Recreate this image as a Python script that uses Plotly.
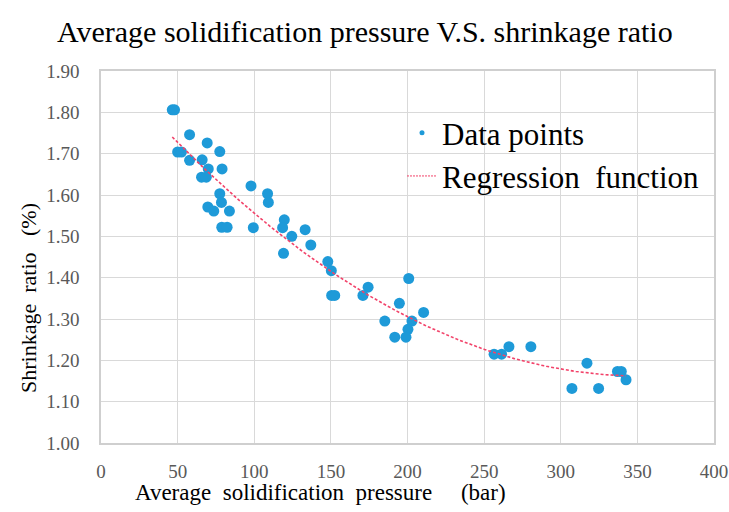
import numpy as np
import plotly.graph_objects as go

# Average solidification pressure (bar) and measured shrinkage ratio (%)
pressure = [46.5, 48.0, 57.8, 50.0, 52.5, 57.8, 69.3, 77.5, 66.0, 70.0,
            65.6, 68.7, 79.0, 77.5, 78.6, 69.7, 73.6, 83.8, 78.8, 82.3,
            97.9, 108.7, 109.2, 99.4, 119.6, 118.5, 119.1, 124.5, 133.2, 136.9,
            148.0, 150.3, 150.5, 152.5, 174.3, 170.9, 194.7, 200.8, 210.5, 185.2,
            202.9, 200.3, 191.7, 199.0, 256.5, 261.4, 266.2, 280.5, 317.1, 337.0,
            339.5, 342.6, 307.3, 324.7]
shrinkage = [1.806, 1.806, 1.746, 1.704, 1.704, 1.684, 1.726, 1.705, 1.685, 1.663,
             1.643, 1.643, 1.663, 1.603, 1.582, 1.571, 1.561, 1.561, 1.522, 1.522,
             1.622, 1.603, 1.582, 1.521, 1.540, 1.521, 1.459, 1.500, 1.516, 1.479,
             1.439, 1.417, 1.357, 1.357, 1.377, 1.357, 1.338, 1.398, 1.316, 1.295,
             1.295, 1.275, 1.256, 1.256, 1.215, 1.215, 1.233, 1.233, 1.193, 1.173,
             1.173, 1.153, 1.132, 1.132]

x_ticks = [0, 50, 100, 150, 200, 250, 300, 350, 400]
y_ticks = [1.00, 1.10, 1.20, 1.30, 1.40, 1.50, 1.60, 1.70, 1.80, 1.90]

POINT_COLOR = "#1E9AD8"
FIT_COLOR = "#F2436A"
SERIF = "Times New Roman"

# Second-order polynomial regression of shrinkage on pressure
coef = np.polyfit(pressure, shrinkage, 2)
fit_x = np.linspace(min(pressure), max(pressure), 200)
fit_y = np.polyval(coef, fit_x)

fig = go.Figure()
fig.add_trace(go.Scatter(
    x=pressure, y=shrinkage, mode="markers", showlegend=False,
    marker=dict(size=11, color=POINT_COLOR),
))
fig.add_trace(go.Scatter(
    x=fit_x, y=fit_y, mode="lines", showlegend=False,
    line=dict(color=FIT_COLOR, width=1.6, dash="3px,2px"),
))
# legend entries with small symbols
fig.add_trace(go.Scatter(
    x=[None], y=[None], mode="markers", name="Data points",
    marker=dict(size=5, color=POINT_COLOR),
))
fig.add_trace(go.Scatter(
    x=[None], y=[None], mode="lines", name="Regression\u00a0 function",
    line=dict(color=FIT_COLOR, width=1, dash="2px,1px"),
))

# plot area in pixels
L, R, T, B = 101, 15, 71, 69
PW, PH = 729 - L - R, 512 - T - B

grid = "#D9D9D9"
fig.update_xaxes(
    range=[0, 400], tickvals=x_ticks, ticktext=[str(v) for v in x_ticks],
    showgrid=True, gridcolor=grid, gridwidth=1, automargin=False,
    showline=True, linecolor="#CFCFCF", linewidth=1.5, mirror=True,
    zeroline=False, ticks="", ticklabelstandoff=10, ticklabeloverflow="allow",
    tickfont=dict(family=SERIF, size=19, color="#595959"),
)
fig.update_yaxes(
    range=[1.0, 1.9], tickvals=y_ticks, ticktext=[f"{v:.2f}" for v in y_ticks],
    showgrid=True, gridcolor=grid, gridwidth=1, automargin=False,
    showline=True, linecolor="#CFCFCF", linewidth=1.5, mirror=True,
    zeroline=False, ticks="", ticklabelstandoff=16,
    tickfont=dict(family=SERIF, size=19, color="#595959"),
)

fig.update_layout(
    width=729, height=512,
    margin=dict(l=L, r=R, t=T, b=B, autoexpand=False),
    paper_bgcolor="white", plot_bgcolor="white",
    legend=dict(
        x=(402 - L) / PW, y=1 - (106 - T) / PH, xanchor="left", yanchor="top",
        bgcolor="rgba(0,0,0,0)", borderwidth=0,
        font=dict(family=SERIF, size=31, color="black"),
    ),
    annotations=[
        dict(text="Average solidification pressure V.S. shrinkage ratio",
             xref="paper", yref="paper", x=(365 - L) / PW, y=1 + (T - 31) / PH,
             xanchor="center", yanchor="middle", showarrow=False,
             font=dict(family=SERIF, size=30, color="black")),
        dict(text="Average\u00a0 solidification\u00a0 pressure\u00a0\u00a0\u00a0\u00a0 (bar)",
             xref="paper", yref="paper", x=(320 - L) / PW, y=-(493 - (512 - B)) / PH,
             xanchor="center", yanchor="middle", showarrow=False,
             font=dict(family=SERIF, size=23, color="black")),
        dict(text="Shrinkage\u00a0 ratio\u00a0\u00a0 (%)", textangle=-90,
             xref="paper", yref="paper", x=-(L - 28) / PW, y=((512 - B) - 298) / PH,
             xanchor="center", yanchor="middle", showarrow=False,
             font=dict(family=SERIF, size=22, color="black")),
    ],
)

fig.write_html("out.html")
